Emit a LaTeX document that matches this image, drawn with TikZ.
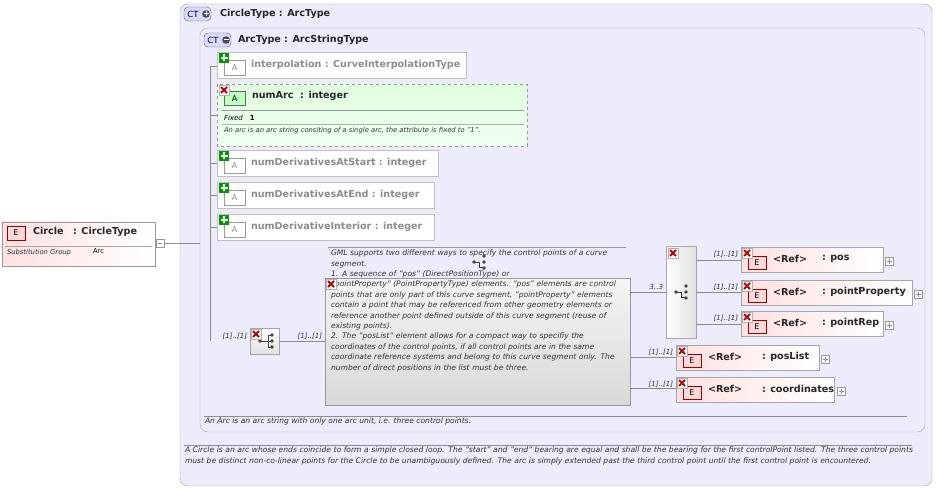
\documentclass[tikz,border=0pt]{standalone}
\usepackage{fontspec}
\setmainfont{DejaVu Sans}
\hyphenpenalty=10000 \exhyphenpenalty=10000
\definecolor{lav}{RGB}{236,236,250}
\begin{document}
\begin{tikzpicture}[x=1pt,y=-1pt,
  every node/.style={inner sep=0pt,outer sep=0pt},
  ttl/.style={font=\fontsize{9.6}{10}\selectfont\bfseries,anchor=west,text=black!85},
  gttl/.style={font=\fontsize{9.6}{10}\selectfont\bfseries,anchor=west,text=black!45},
  desc/.style={font=\fontsize{7.6}{10.4}\selectfont\itshape,anchor=north west,text=black!80,align=left},
  card/.style={font=\fontsize{7}{8}\selectfont\itshape,anchor=east,text=black!80},
  conn/.style={draw=black!45,line width=0.6pt},
  attbox/.style={draw=black!25,fill=white},
  elbox/.style={draw=black!35,left color=red!12,right color=white},
  badge/.style={draw=black!60,font=\fontsize{8.5}{8}\selectfont,minimum width=27pt,minimum height=14pt,anchor=north west,text depth=0pt},
]
\useasboundingbox (0,0) rectangle (937,489);
\fill[white] (0,0) rectangle (937,489);
\newcommand{\redx}[1]{\begin{scope}[shift={#1}]\fill[white,draw=black!30,line width=0.3pt](0,0) rectangle (10,10);\draw[red!75!black,line width=2pt](2,2)--(8,8) (8,2)--(2,8);\end{scope}}
\newcommand{\gplus}[1]{\begin{scope}[shift={#1}]\fill[green!60!black](0,0) rectangle (10,10);\draw[white,line width=1.8pt](5,1.5)--(5,8.5) (1.5,5)--(8.5,5);\end{scope}}
\newcommand{\smallplus}[1]{\begin{scope}[shift={#1}]\draw[black!40,fill=white,line width=0.4pt](0,0) rectangle (8,8);\draw[black!45,line width=0.5pt](4,1.5)--(4,6.5) (1.5,4)--(6.5,4);\end{scope}}
\newcommand{\seqicon}[1]{\begin{scope}[shift={#1}]\fill[black!75](-8,0) circle (1.8);\draw[black!75,line width=0.8pt](-8,0)--(0,0) (0,-6)--(0,6) (0,-6)--(4,-6) (0,0)--(4,0) (0,6)--(4,6);\fill[black!75](4,-6) circle (1.8) (4,0) circle (1.8) (4,6) circle (1.8);\end{scope}}
\newcommand{\choiceicon}[1]{\begin{scope}[shift={#1}]\fill[black!75](-8,0) circle (1.8);\draw[black!75,line width=0.8pt](-8,0)--(-3,0) (-3,0)--(-3,5)--(1,5);\fill[black!75](2,-6) circle (1.8) (2,0) circle (1.8) (2,6) circle (1.8);\end{scope}}

% outer CircleType
\draw[rounded corners=8pt,draw=black!35,fill=lav] (180,4) rectangle (932,486);
\node[badge,rounded corners=4pt,fill=blue!15] (ctb1) at (184,7) {CT\kern9pt};
\fill[black!70] (206,14) circle (3.8); \draw[white,line width=1pt] (206,11.5)--(206,16.5) (203.5,14)--(208.5,14);
\node[ttl] (ct1) at (220,14) {CircleType : ArcType};
% inner ArcType
\draw[rounded corners=8pt,draw=black!35,fill=lav] (200,28) rectangle (925,432);
\node[badge,rounded corners=4pt,fill=blue!15] (ctb2) at (204,33) {CT\kern9pt};
\fill[black!70] (226,40) circle (3.8); \draw[white,line width=1pt] (223.5,40)--(228.5,40);
\node[ttl] (ct2) at (238,40) {ArcType : ArcStringType};

% descriptions
\draw[black!45] (204,416) -- (907,416);
\node[desc] (d2) at (205,418) {An Arc is an arc string with only one arc unit, i.e. three control points.};
\draw[black!45] (184,445) -- (912,445);
\node[desc,text width=730pt] (d1) at (185,447) {A Circle is an arc whose ends coincide to form a simple closed loop. The "start" and "end" bearing are equal and shall be the bearing for the first controlPoint listed. The three control points must be distinct non-co-linear points for the Circle to be unambiguously defined. The arc is simply extended past the third control point until the first control point is encountered.};

% Circle element
\draw[draw=black!40,left color=red!12,right color=white] (2,222) rectangle (155,266);
\draw[red!60!black,fill=red!15] (7,226) rectangle (25,240);
\node[font=\fontsize{8}{8}\selectfont] (eb0) at (16,233) {E};
\node[ttl] (circ) at (33,232) {Circle\quad : CircleType};
\draw[black!35] (5,246)--(152,246);
\node[desc,font=\fontsize{6.8}{8}\selectfont\itshape] (sg) at (7,249) {Substitution Group};
\node[anchor=north west,font=\fontsize{6.8}{8}\selectfont] (sga) at (93,249) {Arc};
\draw[black!40,fill=white] (156,239) rectangle (164,247); \draw[black!45] (158,243)--(162,243);
\draw[conn] (164,243) -- (200,243);

% spine
\coordinate (sp1) at (210,66);
\coordinate (sp2) at (210,341);
\draw[conn] (sp1) -- (sp2);
\foreach \y in {66,115,163,195,227} \draw[conn] (210,\y) -- (218,\y);

% attributes
\newcommand{\att}[5]{% name, y0, y1, x1, text
  \draw[attbox] (217,#2) rectangle (#4,#3);
  \draw[black!40,fill=white] (224,#2+8) rectangle (245,#2+23);
  \node[font=\fontsize{8}{8}\selectfont,text=black!45] at (234.5,#2+16) {A};
  \gplus{(219,#2+1)}
  \node[gttl] (#1) at (251,#2+13) {#5};}
\att{a1}{52}{78}{466}{interpolation : CurveInterpolationType}
\att{a3}{150}{176}{438}{numDerivativesAtStart : integer}
\att{a4}{182}{208}{434}{numDerivativesAtEnd : integer}
\att{a5}{214}{240}{434}{numDerivativeInterior : integer}
% numArc
\draw[dashed,draw=black!40,top color=green!12,bottom color=green!6] (217,84) rectangle (527,146);
\draw[black!60,fill=green!25] (224,91) rectangle (245,105);
\node[font=\fontsize{8}{8}\selectfont] at (234.5,98.5) {A};
\redx{(219,85)}
\node[ttl] (a2) at (252,96) {numArc\ \ : integer};
\draw[black!40] (222,110)--(524,110);
\node[anchor=west,font=\fontsize{7}{8}\selectfont] (fx) at (224,118) {\textit{Fixed}\quad\textbf{1}};
\draw[black!30] (222,124)--(524,124);
\node[desc,font=\fontsize{6.8}{8}\selectfont\itshape] (a2d) at (224,127) {An arc is an arc string consiting of a single arc, the attribute is fixed to "1".};

% sequence
\node[card] (c1) at (247,336) {[1]..[1]};
\draw[black!35,top color=white,bottom color=black!12] (250,328) rectangle (279,354);
\node (seq) at (264.5,341) {};
\seqicon{(268,341)}
\redx{(251,329)}
\draw[conn] (279,341) -- (325,341);
\node[card] (c2) at (322,336) {[1]..[1]};

% annotation
\draw[black!40] (328,247) -- (626,247);
\draw[draw=black!40,top color=black!4,bottom color=black!15] (325,278) rectangle (630,405);
\choiceicon{(482,262)}
\node[desc,text width=296pt] (ann) at (331,250) {GML supports two different ways to specify the control points of a curve segment.\\1. A sequence of "pos" (DirectPositionType) or\\"pointProperty" (PointPropertyType) elements. "pos" elements are control points that are only part of this curve segment, "pointProperty" elements contain a point that may be referenced from other geometry elements or reference another point defined outside of this curve segment (reuse of existing points).\\2. The "posList" element allows for a compact way to specifiy the coordinates of the control points, if all control points are in the same coordinate reference systems and belong to this curve segment only. The number of direct positions in the list must be three.};
\redx{(326,279)}

% choice
\draw[conn] (630,292) -- (666,292);
\node[card] (c3) at (663,287) {3..3};
\draw[black!35,left color=white,right color=black!12] (666,246) rectangle (696,338);
\node (ch) at (681,292) {};
\choiceicon{(684,292)}
\redx{(668,248)}
\foreach \y in {260,292,324} \draw[conn] (696,\y) -- (741,\y);

\newcommand{\el}[7]{% name,x0,y0,x1,name,plusx,labelx
  \draw[elbox] (#2,#3) rectangle (#4,#3+25);
  \draw[red!60!black,fill=red!15] (#2+7,#3+9) rectangle (#2+25,#3+22);
  \node[font=\fontsize{8}{8}\selectfont] at (#2+16,#3+15.5) {E};
  \redx{(#2+1,#3+1)}
  \node[ttl] at (#2+32,#3+12) {<Ref>};
  \node[ttl] (#1) at (#7,#3+12) {: #5};
  \smallplus{(#6,#3+10)}
  \node[card] at (#2-3,#3+7) {[1]..[1]};}
\el{e1}{741}{247}{883}{pos}{885}{822}
\el{e2}{741}{280}{912}{pointProperty}{914}{822}
\el{e3}{741}{311}{883}{pointRep}{885}{822}
\draw[conn] (630,357) -- (676,357);
\draw[conn] (630,388) -- (676,388);
\el{e4}{676}{345}{819}{posList}{821}{762}
\el{e5}{676}{377}{834}{coordinates}{837}{762}
\end{tikzpicture}
\end{document}
